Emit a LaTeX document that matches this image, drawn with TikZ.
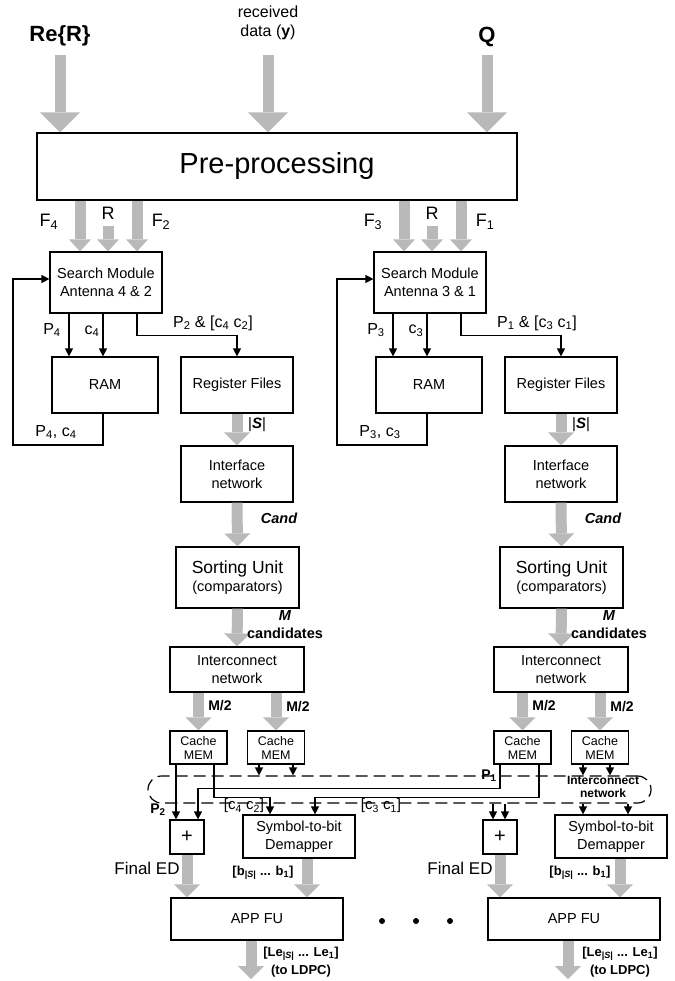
\documentclass[tikz,border=0pt]{standalone}
\usepackage{fontspec}
\setmainfont{Liberation Sans}
\usetikzlibrary{arrows.meta}

\definecolor{flowgray}{RGB}{185,185,185}
\newcommand{\fsz}[2]{\fontsize{#1}{#2}\selectfont}

\tikzset{
  blk/.style={draw, line width=1.2pt, align=center, inner sep=0pt, font=\fsz{14.5}{18}},
  lbl/.style={inner sep=0pt, align=center, font=\fsz{16}{19}},
  blbl/.style={inner sep=0pt, align=center, font=\bfseries\fsz{14}{16}},
  wire/.style={line width=1.2pt, -{Triangle[width=8pt,length=8pt]}},
  flow/.style={draw=flowgray, line width=11pt, -{Triangle[width=26pt,length=13pt,line width=0pt]}},
  flowS/.style={flow, -{Triangle[width=22pt,length=12pt,line width=0pt]}},
  flowB/.style={flow, -{Triangle[width=40pt,length=20pt,line width=0pt]}},
  dot/.style={circle, fill, inner sep=0pt, minimum size=6pt},
}

\begin{document}
\begin{tikzpicture}[x=1pt,y=-1pt]
\useasboundingbox (0,0) rectangle (674,981);

\node[blbl, font=\bfseries\fsz{22}{24}] (reR) at (60,36) {Re\{R\}};
\node[lbl] (rcv) at (268,23) {received\\data (\textbf{y})};
\node[blbl, font=\bfseries\fsz{22}{24}] (qin) at (487,37) {Q};
\node[blk, font=\fsz{29}{32}, minimum width=480, minimum height=67] (pre) at (277,166.5) {Pre-processing};

\coordinate (inRe) at (60,55);
\coordinate (inY) at (268,55);
\coordinate (inQ) at (487,55);
\foreach \c in {inRe,inY,inQ}
  \draw[flowB] (\c) -- (\c |- pre.north);

\foreach \s/\dx/\na/\nb in {L/0/4/2, R/324/3/1}{
  \node[blk, minimum width=112, minimum height=61] (srch\s) at (106+\dx,282.5) {Search Module\\Antenna \na\ \& \nb};
  \node[blk, minimum width=106, minimum height=56] (ram\s) at (105+\dx,385) {RAM};
  \node[blk, minimum width=112, minimum height=56] (reg\s) at (237+\dx,385) {Register Files};
  \node[blk, minimum width=112, minimum height=56] (ifc\s) at (237+\dx,474) {Interface\\network};
  \node[blk, minimum width=123, minimum height=61] (sort\s) at (237.5+\dx,577.5) {{\fsz{17.5}{19}Sorting Unit}\\(comparators)};
  \node[blk, minimum width=134, minimum height=45] (icn\s) at (237+\dx,669.5) {Interconnect\\network};
  \node[blk, font=\fsz{12.5}{14}, minimum width=57, minimum height=33] (cca\s) at (198.5+\dx,747.5) {Cache\\MEM};
  \node[blk, font=\fsz{12.5}{14}, minimum width=57, minimum height=33] (ccb\s) at (276+\dx,747.5) {Cache\\MEM};

  \node[lbl, font=\fsz{18}{20}] (fa\s) at (49+\dx,222) {F\textsubscript{\na}};
  \node[lbl, font=\fsz{18}{20}] (rl\s) at (108+\dx,213) {R};
  \node[lbl, font=\fsz{18}{20}] (fb\s) at (161+\dx,222) {F\textsubscript{\nb}};
  \draw[flowS] (pre.south -| 80+\dx,0) -- (srch\s.north -| 80+\dx,0);
  \coordinate (rin\s) at (108+\dx,226);
  \draw[flowS] (rin\s) -- (rin\s |- srch\s.north);
  \draw[flowS] (pre.south -| 137+\dx,0) -- (srch\s.north -| 137+\dx,0);

  \draw[wire] (srch\s.south -| 69+\dx,0) -- (ram\s.north -| 69+\dx,0);
  \draw[wire] (srch\s.south -| 103+\dx,0) -- (ram\s.north -| 103+\dx,0);
  \draw[wire] (srch\s.south -| 137+\dx,0) -- ++(0,22) -| (reg\s.north);
  \draw[wire] (ram\s.south -| 103+\dx,0) |- (13+\dx,445) |- (srch\s.west |- 0,279);
  \node[lbl] (lp\s) at (52+\dx,330) {P\textsubscript{\na}};
  \node[lbl] (lc\s) at (92+\dx,331) {c\textsubscript{\na}};
  \node[lbl] (lpc\s) at (213+\dx,323) {P\textsubscript{\nb} \& [c\textsubscript{\na} c\textsubscript{\nb}]};
  \node[lbl] (lfb\s) at (56+\dx,432) {P\textsubscript{\na}, c\textsubscript{\na}};

  \draw[flow] (reg\s.south) -- (ifc\s.north);
  \draw[flow] (ifc\s.south) -- (sort\s.north);
  \draw[flow] (sort\s.south) -- (icn\s.north);
  \draw[flow] (icn\s.south -| cca\s) -- (cca\s.north);
  \draw[flow] (icn\s.south -| ccb\s) -- (ccb\s.north);
  \node[lbl, font=\fsz{15}{17}] (ls\s) at (257+\dx,425) {|\textbf{\textit{S}}|};
  \node[blbl, font=\bfseries\itshape\fsz{14.5}{16}] (lcand\s) at (279+\dx,518) {Cand};
  \node[blbl, font=\bfseries\itshape\fsz{14.5}{16}] (lm\s) at (285+\dx,616) {M};
  \node[blbl, font=\bfseries\fsz{14.5}{16}] (lmc\s) at (285+\dx,633) {candidates};
  \node[blbl] (lha\s) at (220+\dx,706) {M/2};
  \node[blbl] (lhb\s) at (298+\dx,707) {M/2};
}

\node[draw, dashed, dash pattern=on 12pt off 6pt, line width=1.2pt, rounded corners=13.5pt,
  minimum width=503, minimum height=27, inner sep=0pt] (xnet) at (399.5,789.5) {};
\node[blbl, font=\bfseries\fsz{12}{13}] (xlbl) at (603,787) {Interconnect\\network};

\node[blk, font=\fsz{20}{22}, minimum width=34, minimum height=34] (plusL) at (187,837) {+};
\node[blk, font=\fsz{20}{22}, minimum width=34, minimum height=34] (plusR) at (500,837) {+};
\node[blk, minimum width=112, minimum height=43] (demL) at (299,836.5) {Symbol-to-bit\\Demapper};
\node[blk, minimum width=112, minimum height=43] (demR) at (611,836.5) {Symbol-to-bit\\Demapper};
\node[blk, minimum width=172, minimum height=42] (appL) at (257,919) {APP FU};
\node[blk, minimum width=172, minimum height=42] (appR) at (574,919) {APP FU};
\foreach \i/\x in {1/382,2/416,3/450}
  \node[dot] (dt\i) at (\x,921) {};

\draw[wire] (ccaL.south -| 176,0) -- (plusL.north -| 176,0);
\draw[wire] (ccaL.south -| 214,0) -- ++(0,33) -| (demL.north -| 270,0);
\draw[wire] (ccbL.south -| 259,0) -- (xnet.north -| 259,0);
\draw[wire] (ccbL.south -| 293,0) -- (xnet.north -| 293,0);
\draw[wire] (ccaR.south -| 500,0) -- ++(0,24) -| (plusL.north -| 198,0);
\draw[wire] (ccaR.south -| 539,0) -- ++(0,33) -| (demL.north -| 315,0);
\draw[wire] (ccbR.south -| 583,0) -- (xnet.north -| 583,0);
\draw[wire] (ccbR.south -| 610,0) -- (xnet.north -| 610,0);
\draw[wire] (xnet.south -| 493,0) -- (plusR.north -| 493,0);
\draw[wire] (xnet.south -| 505,0) -- (plusR.north -| 505,0);
\draw[wire] (xnet.south -| 583,0) -- (demR.north -| 583,0);
\draw[wire] (xnet.south -| 628,0) -- (demR.north -| 628,0);

\node[blbl] (lP2) at (158,810) {P\textsubscript{2}};
\node[lbl, font=\fsz{15}{17}] (lc42) at (244,806) {[c\textsubscript{4} c\textsubscript{2}]};
\node[lbl, font=\fsz{15}{17}] (lc31) at (381,806) {[c\textsubscript{3} c\textsubscript{1}]};
\node[blbl] (lP1) at (489,776) {P\textsubscript{1}};

\coordinate (leL) at (251,979);
\coordinate (leR) at (568,979);
\draw[flow] (plusL.south) -- (plusL |- appL.north);
\draw[flow] (demL.south -| 307,0) -- (appL.north -| 307,0);
\draw[flow] (appL.south -| leL) -- (leL);
\draw[flow] (plusR.south) -- (plusR |- appR.north);
\draw[flow] (demR.south -| 620,0) -- (appR.north -| 620,0);
\draw[flow] (appR.south -| leR) -- (leR);

\node[lbl, font=\fsz{17}{19}] (fedL) at (147,868) {Final ED};
\node[lbl, font=\fsz{17}{19}] (fedR) at (460,868) {Final ED};
\node[blbl, font=\bfseries\fsz{13}{15}] (lbL) at (263,873) {[b\textsubscript{|\textit{S}|} ... b\textsubscript{1}]};
\node[blbl, font=\bfseries\fsz{13}{15}] (lbR) at (580,873) {[b\textsubscript{|\textit{S}|} ... b\textsubscript{1}]};
\node[blbl, font=\bfseries\fsz{13}{18}] (lleL) at (301,962) {[Le\textsubscript{|\textit{S}|} ... Le\textsubscript{1}]\\(to LDPC)};
\node[blbl, font=\bfseries\fsz{13}{18}] (lleR) at (620,962) {[Le\textsubscript{|\textit{S}|} ... Le\textsubscript{1}]\\(to LDPC)};
\end{tikzpicture}
\end{document}
